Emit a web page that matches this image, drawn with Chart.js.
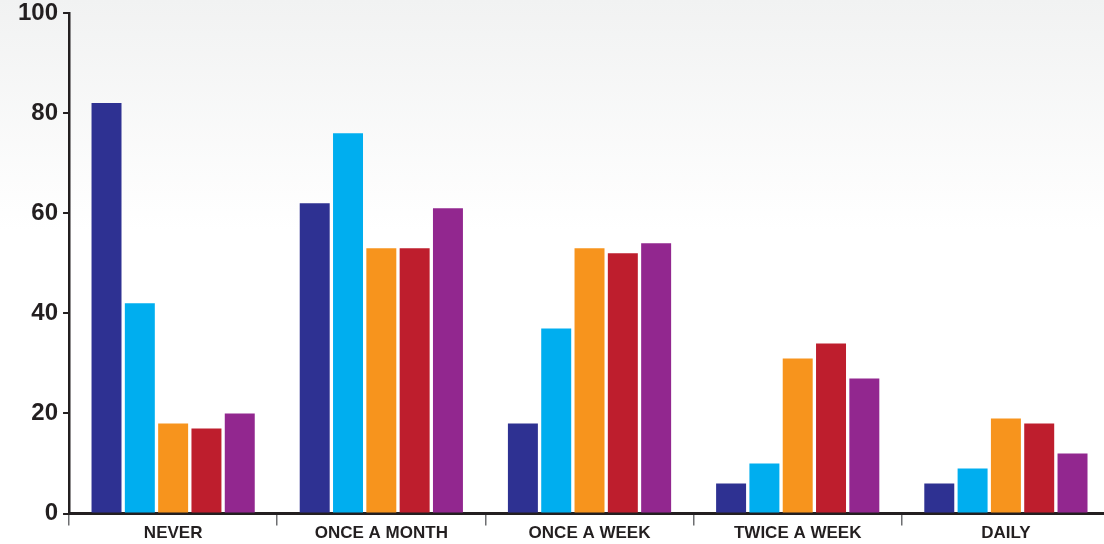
<!DOCTYPE html>
<html>
<head>
<meta charset="utf-8">
<script src="https://cdn.jsdelivr.net/npm/chart.js@4.4.1/dist/chart.umd.min.js"></script>
<style>
  html, body { margin: 0; padding: 0; overflow: hidden; }
  body {
    width: 1104px;
    height: 544px;
    background: linear-gradient(#f1f2f2 0px, #ffffff 230px);
  }
  #wrap { position: relative; width: 1110px; height: 544px; }
</style>
</head>
<body>
<div id="wrap"><canvas id="chart"></canvas></div>
<script>
const categories = ['NEVER', 'ONCE A MONTH', 'ONCE A WEEK', 'TWICE A WEEK', 'DAILY'];
const seriesNames = ['Series 1', 'Series 2', 'Series 3', 'Series 4', 'Series 5'];
const seriesColors = ['#2e3192', '#00aeef', '#f7941d', '#be1e2d', '#92278f'];
const series1 = [82, 62, 18, 6, 6];
const series2 = [42, 76, 37, 10, 9];
const series3 = [18, 53, 53, 31, 19];
const series4 = [17, 53, 52, 34, 18];
const series5 = [20, 61, 54, 27, 12];
const yTicks = [0, 20, 40, 60, 80, 100];

const allSeries = [series1, series2, series3, series4, series5];
const axisColor = '#231f20';

const ctx = document.getElementById('chart').getContext('2d');
new Chart(ctx, {
  type: 'bar',
  data: {
    labels: categories,
    datasets: allSeries.map((values, i) => ({
      label: seriesNames[i],
      data: values,
      backgroundColor: seriesColors[i],
      borderWidth: 0,
      categoryPercentage: 0.8,
      barPercentage: 0.9
    }))
  },
  options: {
    responsive: true,
    maintainAspectRatio: false,
    animation: false,
    layout: { padding: { left: 13, top: 13, right: 0, bottom: 2 } },
    plugins: {
      legend: { display: false },
      tooltip: { enabled: false }
    },
    scales: {
      x: {
        border: { display: true, color: axisColor, width: 3 },
        grid: {
          offset: true,
          drawOnChartArea: false,
          drawTicks: true,
          tickLength: 12,
          color: '#6d6e71',
          lineWidth: 1.5
        },
        ticks: {
          color: axisColor,
          padding: -2,
          font: { family: '"Liberation Sans", Arial, sans-serif', size: 17, weight: 'bold' }
        }
      },
      y: {
        min: 0,
        max: 100,
        afterBuildTicks: axis => { axis.ticks = yTicks.map(v => ({ value: v })); },
        border: { display: true, color: axisColor, width: 2.5 },
        grid: {
          drawOnChartArea: false,
          drawTicks: true,
          tickLength: 6,
          color: axisColor,
          lineWidth: 2
        },
        ticks: {
          color: axisColor,
          padding: 5,
          font: { family: '"Liberation Sans", Arial, sans-serif', size: 24, weight: 'bold', lineHeight: 0.5 }
        }
      }
    }
  }
});
</script>
</body>
</html>
